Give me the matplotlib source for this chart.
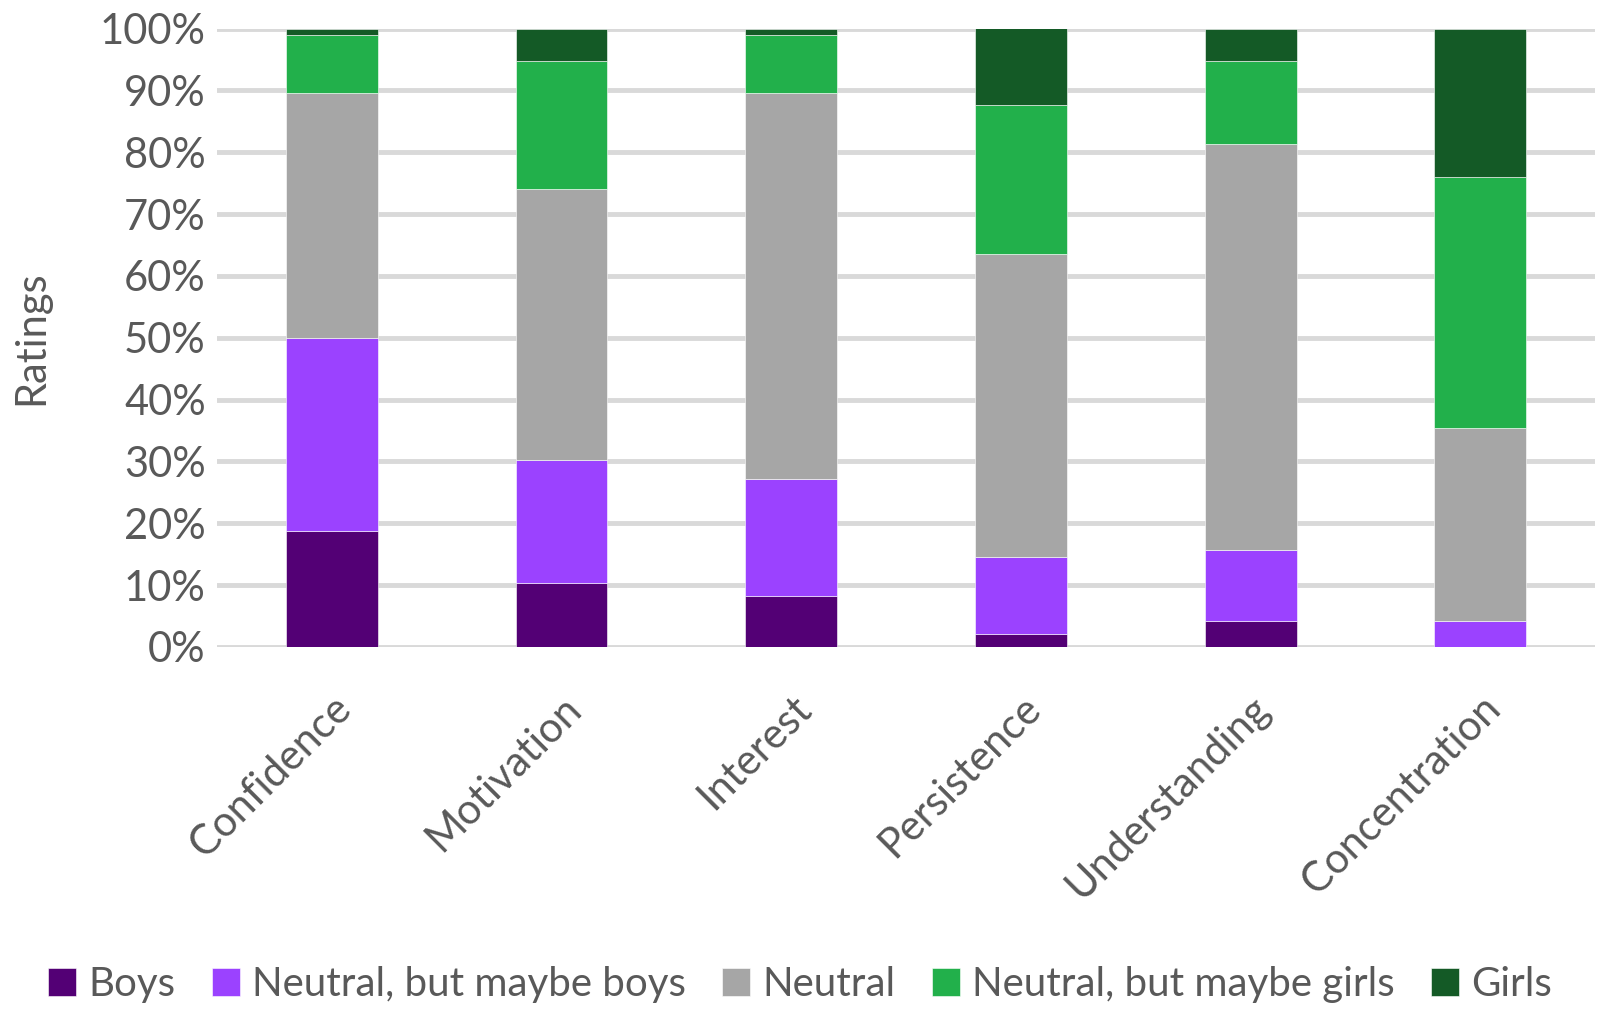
import numpy as np
import matplotlib.pyplot as plt
from matplotlib.ticker import PercentFormatter

plt.rcParams['font.family'] = ['Lato', 'DejaVu Sans']

categories = ['Confidence', 'Motivation', 'Interest', 'Persistence', 'Understanding', 'Concentration']
series = ['Boys', 'Neutral, but maybe boys', 'Neutral', 'Neutral, but maybe girls', 'Girls']

# share of ratings (%) per category
boys = [18.8, 10.4, 8.3, 2.1, 4.2, 0.0]
maybe_boys = [31.2, 19.8, 18.8, 12.5, 11.5, 4.2]
neutral = [39.6, 43.8, 62.5, 49.0, 65.6, 31.2]
maybe_girls = [9.4, 20.8, 9.4, 24.0, 13.5, 40.6]
girls = [1.0, 5.2, 1.0, 12.5, 5.2, 24.0]

colors = ['#530075', '#9B42FF', '#A6A6A6', '#22B04B', '#145A26']
text_col = '#595959'

fig = plt.figure(figsize=(16, 10.09), dpi=100)
ax = fig.add_axes([0.1356, 0.3588, 0.8614, 0.6129])

x = np.arange(len(categories))
bottom = np.zeros(len(categories))
for name, vals, c in zip(series, [boys, maybe_boys, neutral, maybe_girls, girls], colors):
    vals = np.array(vals) / 100
    ax.bar(x, vals, width=0.4, bottom=bottom, color=c, label=name, zorder=3,
           edgecolor='white', linewidth=0.4)
    bottom += vals

ax.set_xlim(-0.5, len(categories) - 0.5)
ax.set_ylim(0, 1)
ax.set_yticks(np.linspace(0, 1, 11))
ax.yaxis.set_major_formatter(PercentFormatter(1.0, decimals=0))
ax.grid(axis='y', color='#d9d9d9', linewidth=3.5, zorder=0)
for s in ax.spines.values():
    s.set_visible(False)
ax.tick_params(length=0, labelsize=30, labelcolor=text_col, pad=8)
ax.set_xticks(x)
ax.set_xticklabels(categories, rotation=45, ha='right', rotation_mode='anchor')
ax.tick_params(axis='x', pad=30)
ax.set_ylabel('Ratings', fontsize=30, color=text_col, labelpad=36)

fig.legend(loc='lower center', bbox_to_anchor=(0.5, -0.03), ncol=5, frameon=False,
           fontsize=29, labelcolor=text_col, handlelength=0.7, handleheight=0.7,
           handletextpad=0.3, columnspacing=0.9)

fig.savefig('out.png', dpi=100)
